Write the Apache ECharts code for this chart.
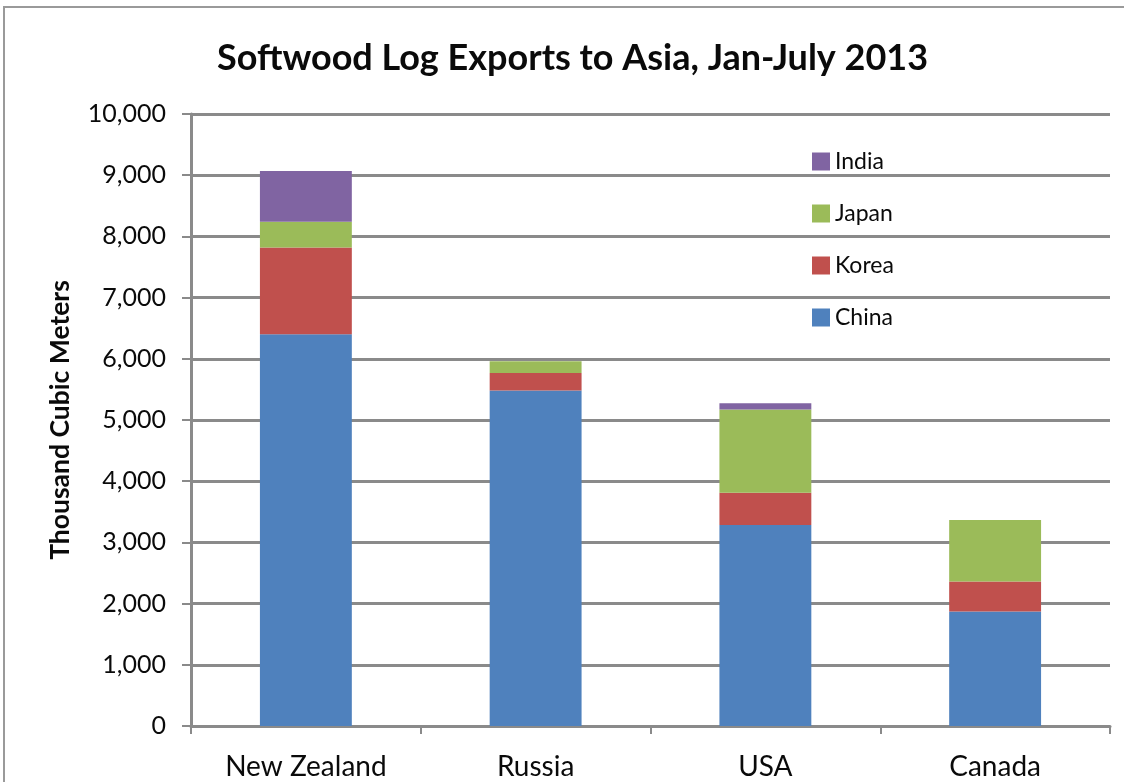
<!DOCTYPE html>
<html>
<head>
<meta charset="utf-8">
<title>Softwood Log Exports to Asia, Jan-July 2013</title>
<script src="https://cdn.jsdelivr.net/npm/echarts@6/dist/echarts.min.js"></script>
<style>
  html, body { margin: 0; padding: 0; background: #fff; }
  #chart { width: 1124px; height: 782px; }
</style>
</head>
<body>
<div id="chart"></div>
<script>
// Exporting countries (x axis)
const categories = ['New Zealand', 'Russia', 'USA', 'Canada'];

// Destination markets, thousand cubic meters
const china = [6400, 5480, 3285, 1870];
const korea = [1420, 290, 525, 490];
const japan = [420, 190, 1360, 1005];
const india = [830, 0, 105, 0];

// Value axis ticks
const yMin = 0;
const yMax = 10000;
const yStep = 1000;

const FONT = 'Lato, "Open Sans", "Noto Sans", sans-serif';
const TEXT = '#0a0a0a';
const AXIS_GREY = '#8a8a8a';

const chart = echarts.init(document.getElementById('chart'), null, { renderer: 'canvas' });

function stackSeries(name, data, color) {
  return {
    name: name,
    type: 'bar',
    stack: 'total',
    data: data,
    barWidth: '40%',
    itemStyle: { color: color },
    emphasis: { disabled: true }
  };
}

chart.setOption({
  animation: false,
  backgroundColor: '#ffffff',
  title: {
    text: 'Softwood Log Exports to Asia, Jan-July 2013',
    left: 212,
    top: 35,
    textStyle: { fontFamily: FONT, fontSize: 36, fontWeight: 'bold', color: TEXT }
  },
  legend: {
    data: ['India', 'Japan', 'Korea', 'China'],
    orient: 'vertical',
    left: 807,
    top: 145,
    itemWidth: 18,
    itemHeight: 18,
    itemGap: 29,
    icon: 'rect',
    textStyle: { fontFamily: FONT, fontSize: 23, color: TEXT }
  },
  grid: { left: 191, right: 14, top: 114, bottom: 56, containLabel: false },
  xAxis: {
    type: 'category',
    data: categories,
    axisLine: { lineStyle: { color: AXIS_GREY, width: 3 } },
    axisTick: { show: true, alignWithLabel: false, length: 8, lineStyle: { color: AXIS_GREY, width: 2 } },
    axisLabel: { fontFamily: FONT, fontSize: 28, color: TEXT, margin: 27 }
  },
  yAxis: {
    type: 'value',
    min: yMin,
    max: yMax,
    interval: yStep,
    name: 'Thousand Cubic Meters',
    nameLocation: 'middle',
    nameRotate: 90,
    nameGap: 117,
    nameTextStyle: { fontFamily: FONT, fontSize: 26.5, fontWeight: 'bold', color: TEXT },
    axisLine: { show: true, lineStyle: { color: AXIS_GREY, width: 3 } },
    axisTick: { show: true, inside: false, length: 9, lineStyle: { color: AXIS_GREY, width: 2 } },
    axisLabel: {
      fontFamily: FONT, fontSize: 25, color: TEXT, margin: 25,
      formatter: v => v.toLocaleString('en-US')
    },
    splitLine: { show: true, lineStyle: { color: AXIS_GREY, width: 3 } }
  },
  graphic: [
    {
      type: 'rect',
      shape: { x: 4, y: 7, width: 1200, height: 900 },
      style: { fill: 'none', stroke: '#9a9a9a', lineWidth: 2 },
      silent: true,
      z: 100
    }
  ],
  series: [
    stackSeries('China', china, '#4f81bd'),
    stackSeries('Korea', korea, '#c0504d'),
    stackSeries('Japan', japan, '#9bbb59'),
    stackSeries('India', india, '#8064a2')
  ]
});
</script>
</body>
</html>
